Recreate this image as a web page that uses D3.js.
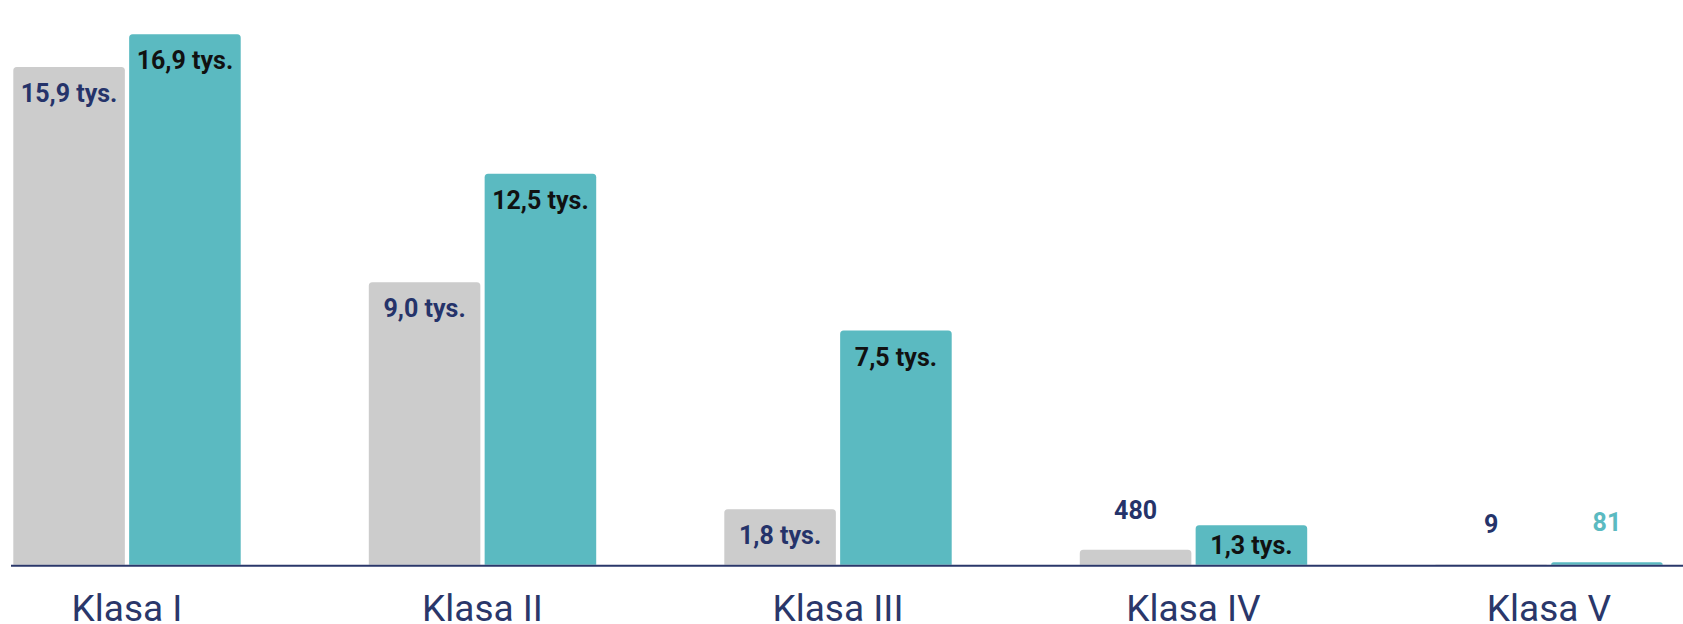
<!DOCTYPE html>
<html>
<head>
<meta charset="utf-8">
<script src="https://cdn.jsdelivr.net/npm/d3@7/dist/d3.min.js"></script>
<style>
  html, body { margin: 0; padding: 0; background: #ffffff; }
  svg { display: block; }
</style>
</head>
<body>
<svg id="chart" width="1683" height="624"></svg>
<script>
// ---- data ----
const categories = ["Klasa I", "Klasa II", "Klasa III", "Klasa IV", "Klasa V"];
const seriesNames = ["A", "B"];
const valuesA = [15860, 9000, 1770, 480, 9];
const valuesB = [16900, 12460, 7460, 1260, 81];

// ---- styles ----
const W = 1683, H = 624;
const baseY = 564.7;
const navy = "#25336a";
const colors = { A: "#cccccc", B: "#5bbac1" };
const labelColorsInside = { A: navy, B: "#111111" };
const labelColorsOutside = { A: navy, B: "#5bbac1" };

const svg = d3.select("#chart");

const x0 = d3.scaleBand().domain(categories).range([13.3, 1662.7]).paddingInner(0.3603).paddingOuter(0);
const x1 = d3.scaleBand().domain(seriesNames).range([0, x0.bandwidth()]).paddingInner(0.037).paddingOuter(0);
const y = d3.scaleLinear().domain([0, 16900]).range([baseY, 34.3]);

const fmt = v => v >= 1000 ? (v / 1000).toFixed(1).replace(".", ",") + " tys." : String(v);

const rows = [];
categories.forEach((c, i) => {
  rows.push({ cat: c, s: "A", v: valuesA[i] });
  rows.push({ cat: c, s: "B", v: valuesB[i] });
});

function topRoundedRect(x, yTop, w, h, r) {
  r = Math.min(r, h, w / 2);
  const p = d3.path();
  p.moveTo(x, yTop + h);
  p.lineTo(x, yTop + r);
  p.arcTo(x, yTop, x + r, yTop, r);
  p.lineTo(x + w - r, yTop);
  p.arcTo(x + w, yTop, x + w, yTop + r, r);
  p.lineTo(x + w, yTop + h);
  p.closePath();
  return p.toString();
}

const g = svg.append("g");

g.selectAll("path.bar").data(rows).join("path")
  .attr("class", "bar")
  .attr("fill", d => colors[d.s])
  .attr("d", d => {
    const bx = x0(d.cat) + x1(d.s);
    const top = y(d.v);
    return topRoundedRect(bx, top, x1.bandwidth(), baseY - top, 3.5);
  });

// axis baseline
svg.append("line")
  .attr("x1", 11).attr("x2", W)
  .attr("y1", baseY + 1).attr("y2", baseY + 1)
  .attr("stroke", "#2a376a").attr("stroke-width", 2);

// value labels
g.selectAll("text.val").data(rows).join("text")
  .attr("class", "val")
  .attr("text-anchor", "middle")
  .attr("font-family", "Roboto, 'Noto Sans', sans-serif")
  .attr("font-weight", 700)
  .attr("font-size", 25)
  .attr("x", d => x0(d.cat) + x1(d.s) + x1.bandwidth() / 2)
  .attr("y", d => {
    const top = y(d.v);
    const h = baseY - top;
    if (h < 30) return top - 31;
    return Math.min(top + 35, top + h / 2 + 9);
  })
  .attr("fill", d => (baseY - y(d.v) < 30) ? labelColorsOutside[d.s] : labelColorsInside[d.s])
  .text(d => fmt(d.v));

// category labels
svg.append("g").selectAll("text.cat").data(categories).join("text")
  .attr("class", "cat")
  .attr("text-anchor", "middle")
  .attr("font-family", "Roboto, 'Noto Sans', sans-serif")
  .attr("font-weight", 400)
  .attr("font-size", 37)
  .attr("fill", "#2a376a")
  .attr("x", c => x0(c) + x0.bandwidth() / 2)
  .attr("y", 620.7)
  .text(c => c);
</script>
</body>
</html>
